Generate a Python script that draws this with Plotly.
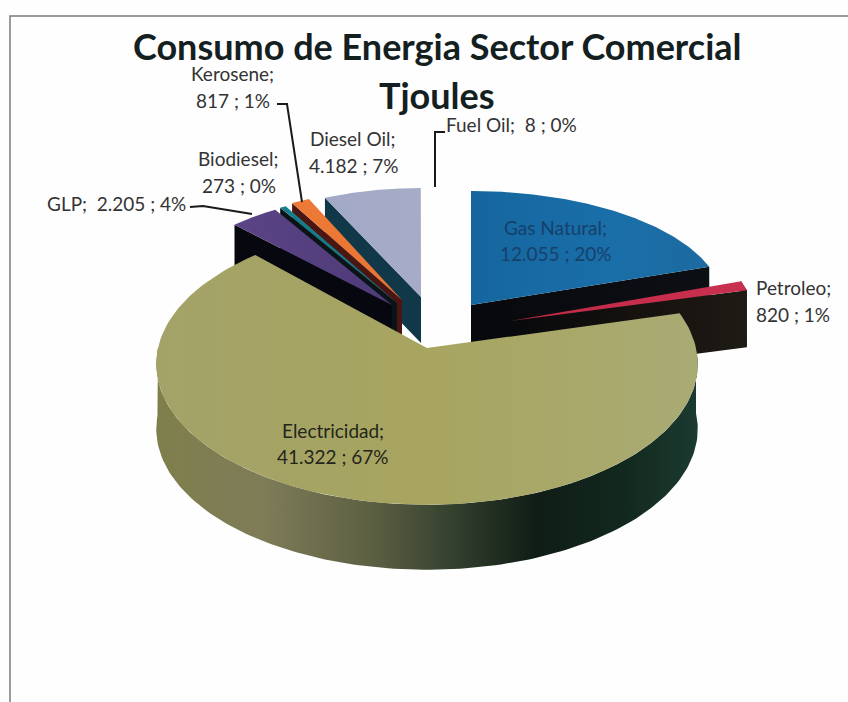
import numpy as np
import plotly.graph_objects as go

# datos (Tjoules)
categorias = ["Gas Natural", "Petroleo", "Electricidad", "GLP", "Biodiesel", "Kerosene", "Diesel Oil", "Fuel Oil"]
valores = [12055, 820, 41322, 2205, 273, 817, 4182, 8]
titulo = ["Consumo de Energia Sector Comercial", "Tjoules"]

# geometria de cada porcion: vertice x, vertice y, radio x, radio y, alto, perspectiva
geo = {
    "Gas Natural": (471, 305, 253, 114, 60, 0),
    "Petroleo": (510, 321, 245, 120, 57, 0),
    "Electricidad": (427, 348, 269, 139, 65, 0.1135),
    "GLP": (392, 305, 228, 111, 50, 0),
    "Biodiesel": (397, 303, 228, 111, 46, 0),
    "Kerosene": (402, 300, 225, 111, 46, 0),
    "Diesel Oil": (421, 297, 232, 109, 46, 0),
    "Fuel Oil": (433, 297, 232, 109, 46, 0),
}
tapa = {
    "Gas Natural": [[0, "#15669f"], [0.6, "#1a6fa8"], [1, "#1c6aa0"]],
    "Petroleo": [[0, "#c22a45"], [1, "#c9304f"]],
    "Electricidad": [[0, "#a3a268"], [0.5, "#a8a560"], [1, "#a9ab74"]],
    "GLP": [[0, "#5a4486"], [1, "#4e3a78"]],
    "Biodiesel": [[0, "#14808c"], [1, "#14707c"]],
    "Kerosene": [[0, "#ee7a36"], [1, "#e87434"]],
    "Diesel Oil": [[0, "#a2a9c8"], [1, "#a6acc6"]],
    "Fuel Oil": [[0, "#e8e8e8"], [1, "#e8e8e8"]],
}
lado = {
    "Gas Natural": [[0, "#08090d"], [1, "#0c0f14"]],
    "Petroleo": [[0, "#08090d"], [0.5, "#14110e"], [1, "#1e1a14"]],
    "GLP": [[0, "#07080f"], [1, "#07080f"]],
    "Biodiesel": [[0, "#0a1418"], [1, "#0a1418"]],
    "Kerosene": [[0, "#4a1512"], [1, "#4a1512"]],
    "Diesel Oil": [[0, "#113848"], [1, "#113848"]],
    "Fuel Oil": [[0, "#f4f4f4"], [1, "#f4f4f4"]],
}
lado_electricidad = [[0, "#7f7f4c"], [0.2, "#7e7c58"], [0.4, "#5c5f42"], [0.55, "#33402e"],
                     [0.7, "#0f1d16"], [0.85, "#12271d"], [1, "#1c3a30"]]
orden = ["Fuel Oil", "Diesel Oil", "Kerosene", "Biodiesel", "GLP", "Gas Natural", "Petroleo", "Electricidad"]


def punto(nombre, ang):
    cx, cy, rx, ry, alto, k = geo[nombre]
    u, v = np.sin(ang), -np.cos(ang)
    w = 1 / (1 - k * v)
    return cx + rx * u * w, cy + ry * v * w


total = sum(valores)
fin = np.cumsum(valores) / total * 2 * np.pi
ini = fin - np.array(valores) / total * 2 * np.pi
angulos = {c: (ini[i], fin[i]) for i, c in enumerate(categorias)}

fig = go.Figure()
for nombre in orden:
    a0, a1 = angulos[nombre]
    cx, cy, rx, ry, alto, k = geo[nombre]
    t = np.linspace(a0, a1, 160)
    bx, by = punto(nombre, t)
    if nombre == "Electricidad":
        # pared frontal curva
        f = np.linspace(np.pi / 2, 3 * np.pi / 2, 160)
        fx, fy = punto(nombre, f)
        fig.add_trace(go.Scatter(
            x=np.r_[fx, fx[::-1]], y=np.r_[fy, fy[::-1] + alto], mode="lines", fill="toself",
            line=dict(width=0), hoverinfo="skip",
            fillgradient=dict(type="horizontal", colorscale=lado_electricidad)))
    else:
        # pared plana del corte
        lx = bx[-1] if nombre in ("Gas Natural", "Petroleo") else bx[0]
        ly = by[-1] if nombre in ("Gas Natural", "Petroleo") else by[0]
        fig.add_trace(go.Scatter(
            x=[cx, lx, lx, cx, cx], y=[cy, ly, ly + alto, cy + alto, cy], mode="lines", fill="toself",
            line=dict(width=0), hoverinfo="skip",
            fillgradient=dict(type="horizontal", colorscale=lado[nombre])))
        if nombre == "Petroleo":
            fig.add_trace(go.Scatter(
                x=[bx[0], bx[-1], bx[-1], bx[0], bx[0]],
                y=[by[0], by[-1], by[-1] + alto, by[0] + alto, by[0]], mode="lines", fill="toself",
                line=dict(width=0), fillcolor="#1e1a14", hoverinfo="skip"))
    fig.add_trace(go.Scatter(
        x=np.r_[cx, bx, cx], y=np.r_[cy, by, cy], mode="lines", fill="toself",
        line=dict(width=0), hoverinfo="skip",
        fillgradient=dict(type="horizontal", colorscale=tapa[nombre])))


def miles(v):
    return f"{v:,}".replace(",", ".")


def dato(nombre):
    v = valores[categorias.index(nombre)]
    return f"{miles(v)} ; {round(v / total * 100)}%"


def texto(x, y, s, size=19, color="#333333", anchor="center", bold=False):
    if bold:
        s = "<b>" + s + "</b>"
    fig.add_annotation(x=x, y=y, text=s, showarrow=False, xanchor=anchor, yanchor="middle",
                       font=dict(family="Lato", size=size, color=color))


texto(437, 46, titulo[0], size=36, color="#14201f", bold=True)
texto(437, 95, titulo[1], size=36, color="#14201f", bold=True)
texto(232, 73, "Kerosene;")
texto(233, 100, dato("Kerosene"))
texto(238, 158, "Biodiesel;")
texto(239, 185, dato("Biodiesel"))
texto(45, 203, "GLP;  " + dato("GLP"), anchor="left")
texto(353, 138, "Diesel Oil;")
texto(354, 165, dato("Diesel Oil"))
texto(444, 124, "Fuel Oil;  " + dato("Fuel Oil"), anchor="left")
texto(555, 227, "Gas Natural;", color="#17406b")
texto(556, 253, dato("Gas Natural"), color="#17406b")
texto(793, 287, "Petroleo;")
texto(793, 314, dato("Petroleo"))
texto(333, 430, "Electricidad;", color="#22261a")
texto(333, 456, dato("Electricidad"), color="#22261a")

# lineas guia y borde del recuadro
guias = [
    "M 277 104 L 287 104 L 302 202",
    "M 190 207 L 203 206 L 252 214",
    "M 445 132 L 435 132 L 435 187",
]
for g in guias:
    fig.add_shape(type="path", path=g, line=dict(color="#1a1a1a", width=2))
fig.add_shape(type="path", path="M 10 702 L 10 16 L 848 16", line=dict(color="#777b80", width=1.5))

fig.update_xaxes(range=[0, 848], visible=False, fixedrange=True)
fig.update_yaxes(range=[702, 0], visible=False, fixedrange=True)
fig.update_layout(width=848, height=702, margin=dict(l=0, r=0, t=0, b=0), showlegend=False,
                  paper_bgcolor="#fefefe", plot_bgcolor="#fefefe")
fig.write_html("out.html", config={"displayModeBar": False},
               post_script="document.body.style.margin='0';document.body.style.overflow='hidden';")
